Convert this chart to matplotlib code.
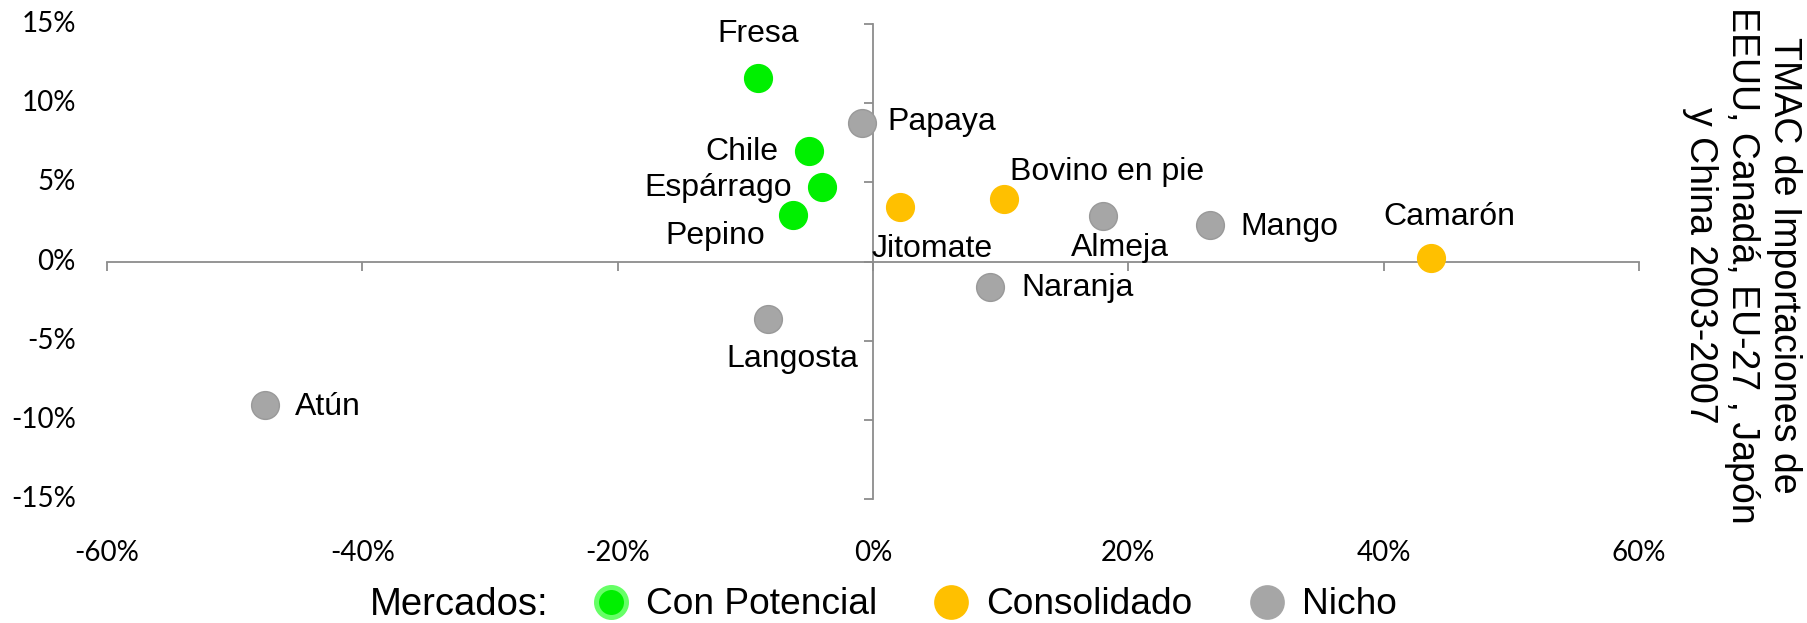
import matplotlib.pyplot as plt
from matplotlib.lines import Line2D
import matplotlib.transforms as mtransforms

# datos: TMAC de exportaciones de Mexico (x) vs TMAC de importaciones (y)
productos = ['Fresa', 'Papaya', 'Chile', 'Espárrago', 'Pepino', 'Jitomate',
             'Bovino en pie', 'Almeja', 'Mango', 'Naranja', 'Camarón',
             'Langosta', 'Atún']
tmac_x = [-9.0, -0.9, -5.05, -4.0, -6.3, 2.15, 10.3, 18.0, 26.4, 9.2, 43.7, -8.2, -47.6]
tmac_y = [11.6, 8.74, 6.98, 4.69, 2.94, 3.44, 3.95, 2.88, 2.31, -1.63, 0.22, -3.63, -9.06]
mercado = ['Con Potencial', 'Nicho', 'Con Potencial', 'Con Potencial', 'Con Potencial',
           'Consolidado', 'Consolidado', 'Nicho', 'Nicho', 'Nicho', 'Consolidado',
           'Nicho', 'Nicho']
x_ticks = [-60, -40, -20, 0, 20, 40, 60]
y_ticks = [-15, -10, -5, 0, 5, 10, 15]

colores = {'Con Potencial': '#00f000', 'Consolidado': '#ffc000', 'Nicho': '#a6a6a6'}
bordes = {'Con Potencial': '#00f000', 'Consolidado': '#ffc000', 'Nicho': '#999999'}

# donde va cada etiqueta (offset en pixeles, alineacion)
pos_etiqueta = {
    'Fresa': (0, 44, 'center'), 'Papaya': (26, 1, 'left'), 'Chile': (-30, -1, 'right'),
    'Espárrago': (-30, -1, 'right'), 'Pepino': (-27, -21, 'right'),
    'Jitomate': (32, -42, 'center'), 'Bovino en pie': (6, 27, 'left'),
    'Almeja': (17, -32, 'center'), 'Mango': (30, -2, 'left'), 'Naranja': (31, -1, 'left'),
    'Camarón': (18, 41, 'center'), 'Langosta': (24, -40, 'center'), 'Atún': (30, -2, 'left'),
}

W, H = 1808, 623
fig = plt.figure(figsize=(W / 100, H / 100), dpi=100)
ax = fig.add_axes([107 / W, 1 - 499 / H, (1639 - 107) / W, (499 - 24) / H])
ax.set_xlim(-60, 60)
ax.set_ylim(-15, 15)

for sp in ['top', 'right']:
    ax.spines[sp].set_visible(False)
for sp in ['left', 'bottom']:
    ax.spines[sp].set_position(('data', 0))
    ax.spines[sp].set_color('#8c8c8c')
    ax.spines[sp].set_linewidth(1.3)
ax.set_xticks(x_ticks)
ax.set_yticks(y_ticks)
ax.tick_params(direction='out', length=6.5, width=1.3, color='#8c8c8c',
               labelbottom=False, labelleft=False)

# etiquetas de los ejes (en el borde, como en excel)
tr_x = mtransforms.blended_transform_factory(ax.transData, fig.transFigure)
tr_y = mtransforms.blended_transform_factory(fig.transFigure, ax.transData)
for t in x_ticks:
    ax.text(t, 1 - 553 / H, f'{t}%', transform=tr_x, ha='center', va='center',
            fontsize=20, family='Lato')
for t in y_ticks:
    ax.text(76 / W, t, f'{t}%', transform=tr_y, ha='right', va='center',
            fontsize=20, family='Lato')

for i in range(len(productos)):
    m = mercado[i]
    ax.scatter(tmac_x[i], tmac_y[i], s=400, color=colores[m], edgecolor=bordes[m],
               linewidth=1, zorder=3, clip_on=False)
    dx, dy, ha = pos_etiqueta[productos[i]]
    ax.annotate(productos[i], (tmac_x[i], tmac_y[i]), xytext=(dx, dy),
                textcoords='offset pixels', ha=ha, va='center',
                fontsize=23, family='Liberation Sans')

fig.text(1742 / W, 1 - 265 / H,
         'TMAC de Importaciones de\nEEUU, Canadá, EU-27 , Japón\ny China 2003-2007',
         rotation=-90, ha='center', va='center', multialignment='center',
         fontsize=27, family='Liberation Sans', linespacing=1.2)

# leyenda
fig.text(459 / W, 1 - 605 / H, 'Mercados:', ha='center', va='center',
         fontsize=27.5, family='Liberation Sans')
handles = [
    Line2D([], [], ls='none', marker='o', ms=21.6, mfc='#00f000', mec='#66ff66', mew=3.6),
    Line2D([], [], ls='none', marker='o', ms=25, mfc='#ffc000', mec='#ffc000', mew=0),
    Line2D([], [], ls='none', marker='o', ms=25, mfc='#a6a6a6', mec='#a6a6a6', mew=0),
]
fig.legend(handles, ['Con Potencial', 'Consolidado', 'Nicho'], ncol=3,
           loc='center left', bbox_to_anchor=(592 / W, 1 - 605 / H), frameon=False,
           borderpad=0, borderaxespad=0, handlelength=1.0, handletextpad=0.45,
           columnspacing=1.5, prop={'family': 'Liberation Sans', 'size': 26.7})

fig.savefig('out.png', dpi=100)
